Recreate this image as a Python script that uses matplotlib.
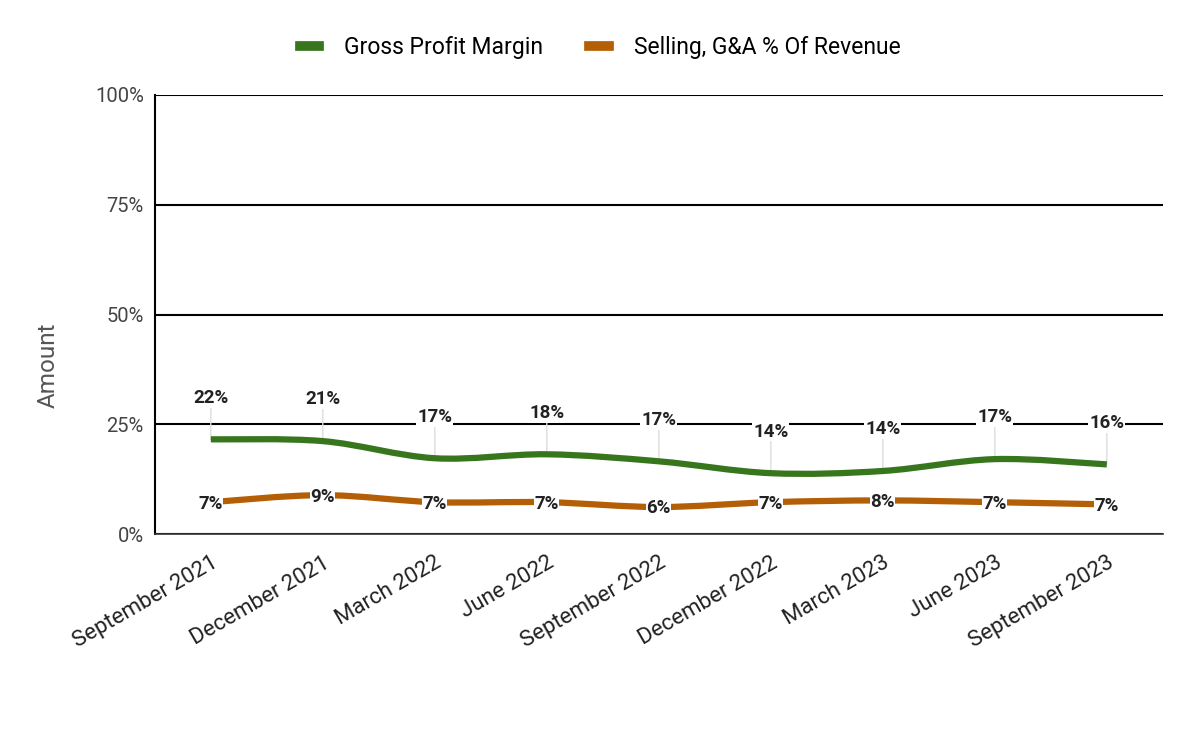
import matplotlib.pyplot as plt
import numpy as np
from matplotlib.path import Path
from matplotlib.patches import PathPatch
from matplotlib.lines import Line2D

plt.rcParams['font.family'] = ['Roboto', 'DejaVu Sans']

quarters = ['September 2021', 'December 2021', 'March 2022', 'June 2022',
            'September 2022', 'December 2022', 'March 2023', 'June 2023',
            'September 2023']
gross_margin = [21.6, 21.2, 17.3, 18.2, 16.6, 13.9, 14.4, 17.1, 15.9]
sga_pct = [7.3, 8.9, 7.3, 7.3, 6.2, 7.3, 7.7, 7.3, 6.8]

GREEN = '#38761d'
ORANGE = '#b45f06'


def smooth_path(xs, ys):
    """catmull-rom style bezier path through the points"""
    pts = np.column_stack([xs, ys]).astype(float)
    n = len(pts)
    verts = [pts[0]]
    codes = [Path.MOVETO]
    for i in range(n - 1):
        p0 = pts[i - 1] if i > 0 else pts[i]
        p1 = pts[i]
        p2 = pts[i + 1]
        p3 = pts[i + 2] if i + 2 < n else pts[i + 1]
        c1 = p1 + (p2 - p0) / 6.0
        c2 = p2 - (p3 - p1) / 6.0
        verts += [c1, c2, p2]
        codes += [Path.CURVE4] * 3
    return Path(verts, codes)


fig = plt.figure(figsize=(12, 7.41), dpi=100)
ax = fig.add_axes([0.129, 0.279, 0.840, 0.593])

x = np.arange(len(quarters))

for vals, col in [(gross_margin, GREEN), (sga_pct, ORANGE)]:
    patch = PathPatch(smooth_path(x, vals), facecolor='none', edgecolor=col,
                      lw=4.5, capstyle='butt', zorder=3)
    ax.add_patch(patch)

# data labels for gross margin: above with leader line
for xi, v in zip(x, gross_margin):
    ax.annotate('', xy=(xi, v), xytext=(0, 24), textcoords='offset points',
                arrowprops=dict(arrowstyle='-', color='#dddddd', lw=1,
                                shrinkA=0, shrinkB=0), zorder=2)
    ax.annotate(f'{round(v)}%', xy=(xi, v), xytext=(0, 30), textcoords='offset points',
                ha='center', va='center', fontsize=13.5, fontweight='bold',
                color='#222222', zorder=5,
                bbox=dict(boxstyle='square,pad=0.05', fc='white', ec='none'))

# data labels for SG&A: on the line
for xi, v in zip(x, sga_pct):
    ax.annotate(f'{round(v)}%', xy=(xi, v), xytext=(0, -1), textcoords='offset points',
                ha='center', va='center', fontsize=13.5, fontweight='bold',
                color='#222222', zorder=5,
                bbox=dict(boxstyle='square,pad=0.02', fc='white', ec='none'))

ax.set_xlim(-0.5, len(quarters) - 0.5)
ax.set_ylim(0, 100)
ax.set_yticks([0, 25, 50, 75, 100])
ax.set_yticklabels([f'{t}%' for t in [0, 25, 50, 75, 100]])
ax.yaxis.grid(True, color='black', lw=1.5)
ax.set_axisbelow(True)

ax.set_xticks(x)
ax.set_xticklabels(quarters, rotation=30, ha='right', rotation_mode='anchor',
                   fontsize=16, color='#222222')
ax.tick_params(axis='x', length=0, pad=13)
ax.tick_params(axis='y', length=0, labelsize=14.5, labelcolor='#444444', pad=8)

for s in ['top', 'right']:
    ax.spines[s].set_visible(False)
ax.spines['left'].set_color('black')
ax.spines['left'].set_linewidth(1.5)
ax.spines['bottom'].set_color('#333333')
ax.spines['bottom'].set_linewidth(1.2)

ax.set_ylabel('Amount', fontsize=17.5, color='#555555')
ax.yaxis.set_label_coords(-0.094, 0.385)

handles = [Line2D([], [], color=GREEN, lw=7), Line2D([], [], color=ORANGE, lw=7)]
fig.legend(handles, ['Gross Profit Margin', 'Selling, G&A % Of Revenue'],
           loc='center', bbox_to_anchor=(0.5, 0.936), ncol=2, frameon=False,
           fontsize=16.5, handlelength=0.85, columnspacing=2.0, handletextpad=1.1)

fig.savefig('out.png', dpi=100)
